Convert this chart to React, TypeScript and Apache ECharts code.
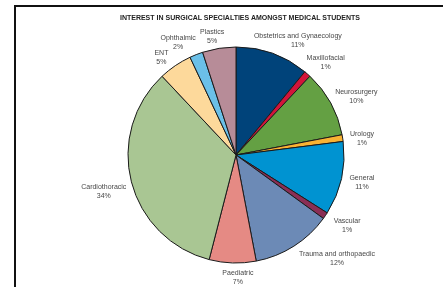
import React, { useEffect, useRef } from "react";
import * as echarts from "echarts";

const TITLE = "INTEREST IN SURGICAL SPECIALTIES AMONGST MEDICAL STUDENTS";
const categories = [
  "Obstetrics and Gynaecology",
  "Maxillofacial",
  "Neurosurgery",
  "Urology",
  "General",
  "Vascular",
  "Trauma and orthopaedic",
  "Paediatric",
  "Cardiothoracic",
  "ENT",
  "Ophthalmic",
  "Plastics",
];
const values = [11, 1, 10, 1, 11, 1, 12, 7, 34, 5, 2, 5];
const colors = [
  "#00437A",
  "#D2143A",
  "#64A043",
  "#F9B233",
  "#0093D1",
  "#8A2E55",
  "#6C8AB6",
  "#E58A84",
  "#A9C693",
  "#FDD99B",
  "#6BC0E8",
  "#B78C98",
];
// small label nudges (px) to mimic the original label placement
const nudgeX = [8, 1, 1, 0.5, 1.5, 5, 19, 6, 1, -6, -9, -4];
const nudgeY = [2, 0.5, 0.5, 2, 0, 0, -2, -1.5, 5, 5, 2, 3];

const CX = 236;
const CY = 155;
const R = 108;
const GAP = 7;
const LABEL_COLOR = "#474747";

export default function App() {
  const ref = useRef<HTMLDivElement>(null);
  useEffect(() => {
    if (!ref.current) return;
    const chart = echarts.init(ref.current, undefined, { renderer: "svg" });
    const total = values.reduce((a, b) => a + b, 0);
    const mids: number[] = [];
    let cum = 0;
    values.forEach((v) => {
      mids.push(((cum + v / 2) / total) * Math.PI * 2);
      cum += v;
    });
    chart.setOption({
      animation: false,
      graphic: [
        {
          type: "rect",
          shape: { x: 15, y: 6, width: 600, height: 400 },
          style: { fill: "none", stroke: "#111111", lineWidth: 2 },
          silent: true,
        },
        {
          type: "text",
          x: 240,
          y: 17,
          style: {
            text: TITLE,
            fill: "#222222",
            font: "bold 7px 'Liberation Sans', Arial, sans-serif",
            align: "center",
            verticalAlign: "middle",
          },
          silent: true,
        },
      ],
      series: [
        {
          type: "pie",
          center: [CX, CY],
          radius: R,
          startAngle: 90,
          clockwise: true,
          silent: true,
          avoidLabelOverlap: false,
          data: categories.map((name, i) => ({
            name,
            value: values[i],
            itemStyle: { color: colors[i] },
          })),
          itemStyle: { borderColor: "#1a1a1a", borderWidth: 1 },
          label: {
            show: true,
            position: "outside",
            formatter: (p: any) => `${p.name}\n${Math.round(p.percent)}%`,
            color: LABEL_COLOR,
            fontSize: 7,
            lineHeight: 9,
            fontFamily: "'Liberation Sans', Arial, sans-serif",
          },
          labelLine: { show: false, length: 5, length2: 5 },
          labelLayout: (p: any) => {
            const i = p.dataIndex;
            const a = mids[i];
            const dx = Math.sin(a);
            const dy = -Math.cos(a);
            const w = p.labelRect.width;
            const h = p.labelRect.height;
            return {
              x: CX + (R + GAP) * dx + (dx * w) / 2 + nudgeX[i],
              y: CY + (R + GAP) * dy + (dy * h) / 2 + nudgeY[i],
              align: "center",
              verticalAlign: "middle",
            };
          },
          emphasis: { disabled: true },
        },
      ],
    });
    return () => chart.dispose();
  }, []);
  return (
    <div
      ref={ref}
      style={{
        position: "fixed",
        left: 0,
        top: 0,
        width: 443,
        height: 287,
        willChange: "transform",
      }}
    />
  );
}
